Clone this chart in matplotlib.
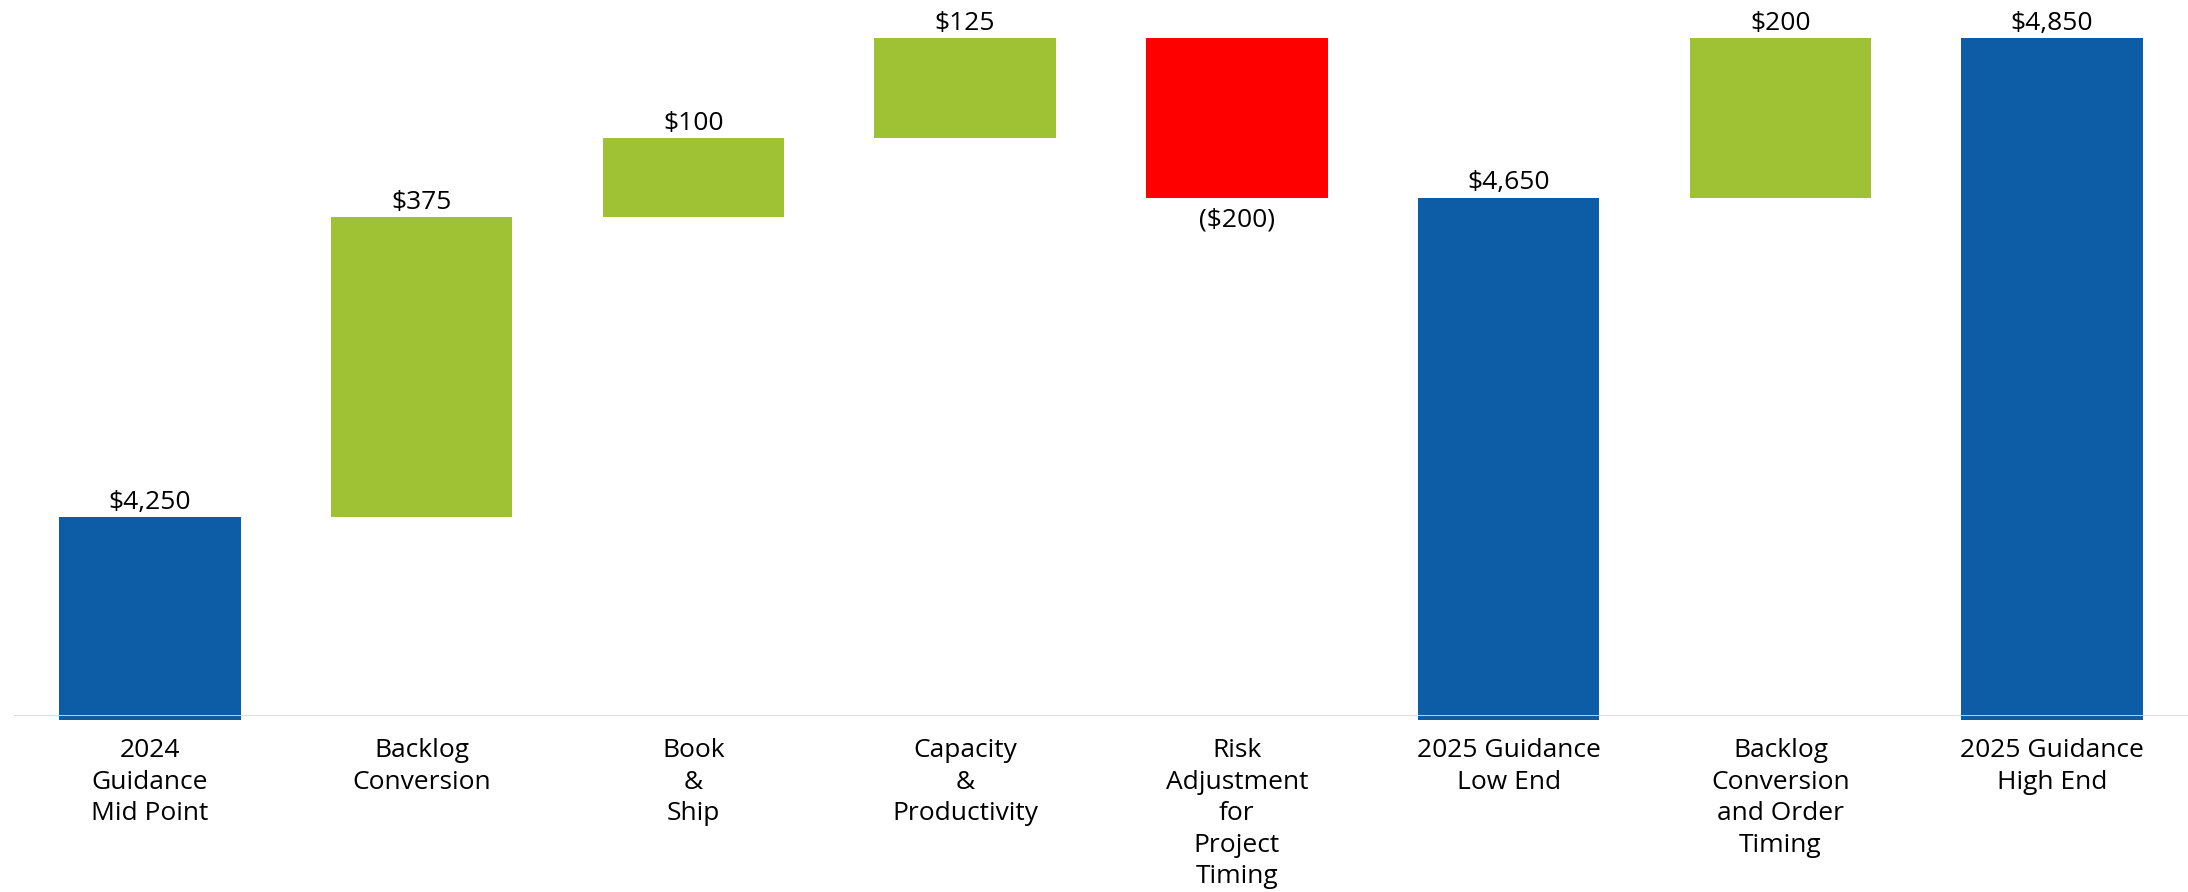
import matplotlib
matplotlib.use("Agg")
import matplotlib.pyplot as plt
from matplotlib.transforms import offset_copy

plt.rcParams['font.family'] = ['Open Sans', 'DejaVu Sans']

# Revenue bridge (in $ millions)
categories = [
    "2024\nGuidance\nMid Point",
    "Backlog\nConversion",
    "Book\n&\nShip",
    "Capacity\n&\nProductivity",
    "Risk\nAdjustment\nfor\nProject\nTiming",
    "2025 Guidance\nLow End",
    "Backlog\nConversion\nand Order\nTiming",
    "2025 Guidance\nHigh End",
]
# 'total' bars rise from the axis floor; 'delta' bars float on the running total
kinds = ["total", "delta", "delta", "delta", "delta", "total", "delta", "total"]
values = [4250, 375, 100, 125, -200, 4650, 200, 4850]
value_labels = ["$4,250", "$375", "$100", "$125", "($200)", "$4,650", "$200", "$4,850"]

axis_floor = 4000
axis_top = 4850

blue = "#0C5DA5"
green = "#9FC235"
red = "#FF0000"

fs = 19

fig = plt.figure(figsize=(21.88, 8.92), dpi=100)
ax = fig.add_axes([14 / 2188, (892 - 716) / 892, (2188 - 14) / 2188, (716 - 38) / 892])

running = 0
for i, (kind, v, lab) in enumerate(zip(kinds, values, value_labels)):
    if kind == "total":
        bottom = axis_floor - 5
        height = v - bottom
        running = v
        color = blue
        top, low = v, bottom
    else:
        bottom = running if v >= 0 else running + v
        height = abs(v)
        color = green if v >= 0 else red
        top, low = bottom + height, bottom
        running += v
    ax.bar(i, height, bottom=bottom, width=0.668, color=color, clip_on=False, zorder=2)
    if v >= 0:
        t = offset_copy(ax.transData, fig=fig, y=1.5, units="points")
        ax.text(i, top, lab, ha="center", va="bottom", fontsize=fs,
                color="black", transform=t, clip_on=False)
    else:
        t = offset_copy(ax.transData, fig=fig, y=-7.5, units="points")
        ax.text(i, low, lab, ha="center", va="top", fontsize=fs,
                color="black", transform=t, clip_on=False)

ax.axhline(axis_floor, color="#D9D9D9", lw=2, zorder=3)

ax.set_xlim(-0.5, 7.5)
ax.set_ylim(axis_floor, axis_top)
ax.set_xticks(range(len(categories)))
ax.set_xticklabels(categories, fontsize=fs, linespacing=1.34)
ax.tick_params(axis="x", length=0, pad=16)
ax.set_yticks([])
for s in ax.spines.values():
    s.set_visible(False)

fig.savefig("out.png", dpi=100, facecolor="white")
